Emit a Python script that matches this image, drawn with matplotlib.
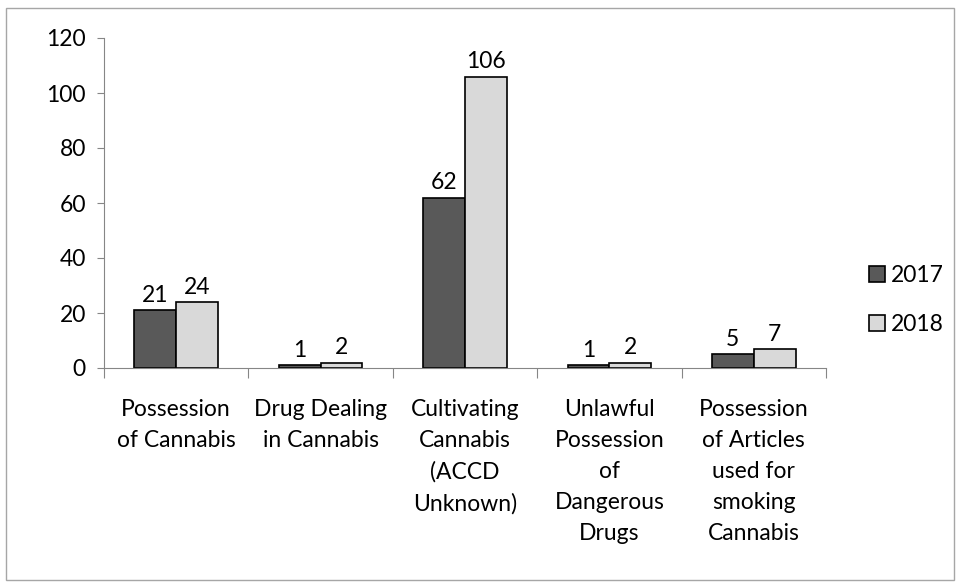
import numpy as np
import matplotlib.pyplot as plt
from matplotlib.patches import Rectangle, Patch

plt.rcParams['font.family'] = ['Lato', 'DejaVu Sans']

categories = [
    "Possession\nof Cannabis",
    "Drug Dealing\nin Cannabis",
    "Cultivating\nCannabis\n(ACCD\nUnknown)",
    "Unlawful\nPossession\nof\nDangerous\nDrugs",
    "Possession\nof Articles\nused for\nsmoking\nCannabis",
]
vals_2017 = [21, 1, 62, 1, 5]
vals_2018 = [24, 2, 106, 2, 7]
series_names = ["2017", "2018"]
colors = ["#595959", "#d9d9d9"]
FS = 16.5

fig = plt.figure(figsize=(9.56, 5.83), dpi=100)
fig.patches.append(Rectangle((6 / 956, 3 / 583), 948 / 956, 572 / 583,
                             transform=fig.transFigure, fill=False,
                             edgecolor='#a6a6a6', lw=1))
ax = fig.add_axes([104 / 956, 1 - 368 / 583, 722 / 956, 330 / 583])

x = np.arange(len(categories))
w = 0.29
b1 = ax.bar(x - w / 2, vals_2017, w, color=colors[0], edgecolor='black', lw=1.2)
b2 = ax.bar(x + w / 2, vals_2018, w, color=colors[1], edgecolor='black', lw=1.2)

for bars in (b1, b2):
    for r in bars:
        ax.annotate(f"{int(r.get_height())}",
                    (r.get_x() + r.get_width() / 2, r.get_height()),
                    xytext=(0, 3), textcoords='offset points',
                    ha='center', va='bottom', fontsize=FS)

ax.set_xlim(-0.5, len(categories) - 0.5)
ax.set_ylim(0, 120)
ax.set_yticks(range(0, 121, 20))
ax.tick_params(axis='y', labelsize=FS, length=5, color='#868686', pad=8)

# category boundaries as major ticks, labels on minor ticks
ax.set_xticks(np.arange(-0.5, len(categories), 1))
ax.set_xticklabels([])
ax.tick_params(axis='x', which='major', length=7, color='#868686')
ax.set_xticks(x, minor=True)
ax.set_xticklabels(categories, minor=True, fontsize=FS, linespacing=1.6, va='top')
ax.tick_params(axis='x', which='minor', length=0, pad=22)

for s in ('top', 'right'):
    ax.spines[s].set_visible(False)
ax.spines['left'].set_color('#868686')
ax.spines['bottom'].set_color('#868686')

handles = [Patch(facecolor=c, edgecolor='black', lw=1.2) for c in colors]
fig.legend(handles, series_names, loc='center left',
           bbox_to_anchor=(848 / 956, 1 - 300 / 583), frameon=False,
           fontsize=FS, handlelength=0.7, handleheight=0.7,
           handletextpad=0.25, labelspacing=1.2)

plt.savefig('out.png', dpi=100)
